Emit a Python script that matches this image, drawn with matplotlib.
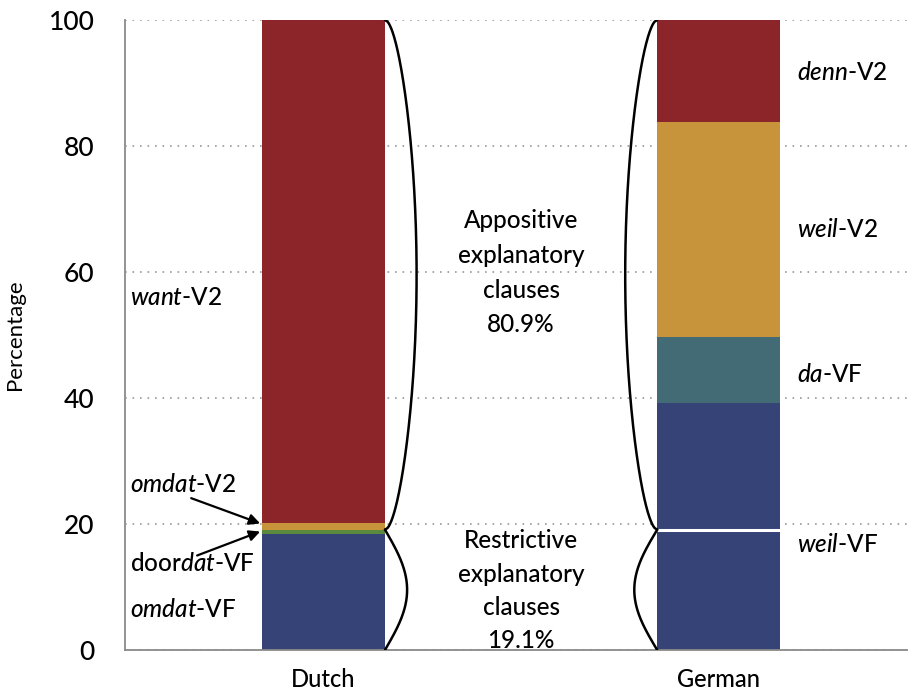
import numpy as np
import matplotlib
matplotlib.use("Agg")
import matplotlib.pyplot as plt

plt.rcParams['font.family'] = ['Lato', 'DejaVu Sans']
plt.rcParams['font.weight'] = 'medium'
plt.rcParams['mathtext.fontset'] = 'custom'
plt.rcParams['mathtext.rm'] = 'Lato:medium'
plt.rcParams['mathtext.it'] = 'Lato:italic:medium'

# ---- data ----
languages = ['Dutch', 'German']
dutch_labels = [r'$\mathit{omdat}$-VF', r'door$\mathit{dat}$-VF', r'$\mathit{omdat}$-V2', r'$\mathit{want}$-V2']
dutch_values = [18.4, 0.7, 1.1, 79.8]
german_labels = [r'$\mathit{weil}$-VF', None, r'$\mathit{da}$-VF', r'$\mathit{weil}$-V2', r'$\mathit{denn}$-V2']
german_values = [19.1, 20.1, 10.5, 34.1, 16.2]
restrictive_pct = 19.1
appositive_pct = 80.9
yticks = [0, 20, 40, 60, 80, 100]

c_red = '#8B2529'
c_orange = '#C8943B'
c_green = '#5B8A3F'
c_blue = '#354376'
c_teal = '#436B75'
dutch_colors = [c_blue, c_green, c_orange, c_red]
german_colors = [c_blue, c_blue, c_teal, c_orange, c_red]

fig = plt.figure(figsize=(9.08, 6.92), dpi=100)
ax = fig.add_axes([0.1377, 0.0607, 0.8613, 0.9104])

xpos = np.arange(len(languages))
width = 0.311

# bars
bottom = 0.0
for v, c in zip(dutch_values, dutch_colors):
    ax.bar(xpos[0], v, width, bottom=bottom, color=c, linewidth=0, zorder=2)
    bottom += v
bottom = 0.0
for v, c in zip(german_values, german_colors):
    ax.bar(xpos[1], v, width, bottom=bottom, color=c, linewidth=0, zorder=2)
    bottom += v
# white separator in German weil-VF
ax.plot([xpos[1] - width / 2, xpos[1] + width / 2], [german_values[0]] * 2,
        color='white', lw=2.2, zorder=3, solid_capstyle='butt')

ax.set_xlim(-0.5025, 1.477)
ax.set_ylim(0, 100)
ax.set_yticks(yticks)
ax.set_yticklabels([str(t) for t in yticks], fontsize=19)
ax.set_xticks(xpos)
ax.set_xticklabels(languages, fontsize=17)
ax.tick_params(axis='y', length=0, pad=22)
ax.tick_params(axis='x', length=0, pad=13)
ax.set_ylabel('Percentage', fontsize=16)
ax.yaxis.set_label_coords(-0.128, 0.5)
for s in ['top', 'right']:
    ax.spines[s].set_visible(False)
for s in ['left', 'bottom']:
    ax.spines[s].set_color('#8a8a8a')
    ax.spines[s].set_linewidth(1.3)
ax.yaxis.grid(True, linestyle=(0, (1, 3.5)), color='#999999', lw=1.2, zorder=0)
ax.set_axisbelow(True)


# braces
def brace(xbase, direction, y0, y1, ext, power):
    t = np.linspace(0, 1, 300)
    y = y0 + (y1 - y0) * t
    x = xbase + direction * ext * np.sin(np.pi * t) ** power
    ax.plot(x, y, color='black', lw=1.8, zorder=4, solid_capstyle='round')


d_edge = xpos[0] + width / 2
g_edge = xpos[1] - width / 2
brace(d_edge, 1, 100, restrictive_pct, 0.080, 0.55)
brace(d_edge, 1, restrictive_pct, 0, 0.056, 1.0)
brace(g_edge, -1, 100, restrictive_pct, 0.081, 0.55)
brace(g_edge, -1, restrictive_pct, 0, 0.058, 1.0)

# center texts
xmid = (xpos[0] + xpos[1]) / 2
ax.text(xmid, 59.9, 'Appositive\nexplanatory\nclauses\n%.1f%%' % appositive_pct,
        ha='center', va='center', fontsize=17.5, linespacing=1.62)
ax.text(xmid, 9.4, 'Restrictive\nexplanatory\nclauses\n%.1f%%' % restrictive_pct,
        ha='center', va='center', fontsize=17.5, linespacing=1.55)

# Dutch labels
lx = -0.490
lfs = 17.5
ax.text(lx, 56.0, dutch_labels[3], ha='left', va='center', fontsize=lfs)
ax.text(lx, 26.2, dutch_labels[2], ha='left', va='center', fontsize=lfs)
ax.text(lx, 13.8, dutch_labels[1], ha='left', va='center', fontsize=lfs)
ax.text(lx, 6.5, dutch_labels[0], ha='left', va='center', fontsize=lfs)
# arrows
bar_left = xpos[0] - width / 2
cum = np.cumsum(dutch_values)
ax.annotate('', xy=(bar_left - 0.005, cum[1] + dutch_values[2] * 0.9), xytext=(-0.335, 24.1),
            arrowprops=dict(arrowstyle='-|>', color='black', lw=1.6, mutation_scale=16,
                            shrinkA=0, shrinkB=0), zorder=5)
ax.annotate('', xy=(bar_left - 0.005, cum[0] + 0.4), xytext=(-0.32, 15.0),
            arrowprops=dict(arrowstyle='-|>', color='black', lw=1.6, mutation_scale=16,
                            shrinkA=0, shrinkB=0), zorder=5)

# German labels
gx = 1.199
ax.text(gx, 91.6, german_labels[4], ha='left', va='center', fontsize=lfs)
ax.text(gx, 66.7, german_labels[3], ha='left', va='center', fontsize=lfs)
ax.text(gx, 43.7, german_labels[2], ha='left', va='center', fontsize=lfs)
ax.text(gx, 16.7, german_labels[0], ha='left', va='center', fontsize=lfs)

fig.savefig('out.png', dpi=100)
